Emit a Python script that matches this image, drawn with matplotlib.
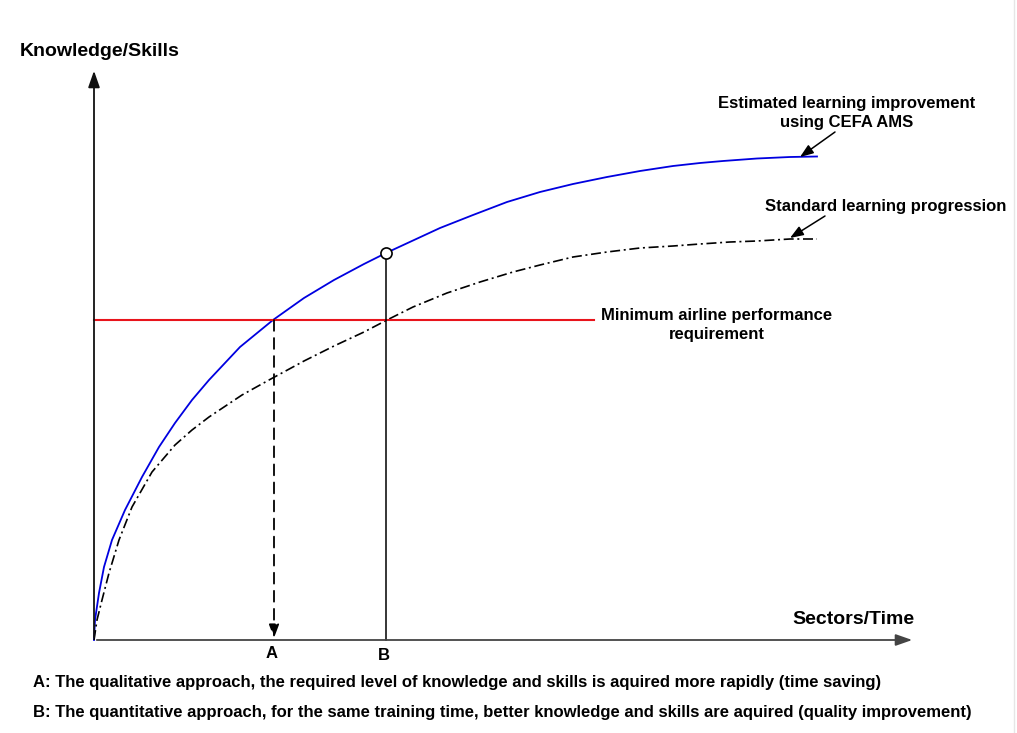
import matplotlib.pyplot as plt
import numpy as np

plt.rcParams['font.family'] = ['Liberation Sans', 'DejaVu Sans']

# curves (time units, knowledge units)
ams_t = [0, 1, 5, 10, 18, 31, 48, 65, 81, 98, 115, 146, 179, 210, 240, 270, 292,
         346, 379, 413, 446, 479, 513, 546, 579, 606, 629, 663, 696, 723]
ams_k = [0, 20, 47, 73, 100, 130, 163, 193, 217, 240, 260, 293, 320, 342, 360, 376, 387,
         412, 425, 438, 448, 456, 463, 469, 474, 477, 479, 481.5, 483, 483.5]

std_t = [0, 3, 8, 15, 25, 38, 58, 81, 98, 115, 148, 175, 210, 240, 270, 293,
         319, 353, 386, 419, 446, 479, 513, 546, 579, 606, 636, 663, 696, 723]
std_k = [0, 20, 40, 67, 100, 133, 168, 195, 210, 223, 245, 260, 279, 294, 308, 320,
         333, 347, 358, 368, 375, 383, 388, 392, 394, 396, 398, 399, 401, 401]

min_level = 320
min_span = [0, 500]
point_a = 180
point_b = 292
b_level = 387

fig = plt.figure(figsize=(10.17, 7.33), dpi=100)
ax = fig.add_axes([0, 0, 1, 1])
ax.set_xlim(-94, 923)
ax.set_ylim(-93, 640)
ax.axis('off')

# axes with arrows
ax.annotate('', xy=(0, 572), xytext=(0, 0),
            arrowprops=dict(arrowstyle='-|>,head_length=1.0,head_width=0.35', color='#111111', lw=1.3))
ax.annotate('', xy=(821, 0), xytext=(0, 0),
            arrowprops=dict(arrowstyle='-|>,head_length=1.0,head_width=0.35', color='#444444', lw=1.3))
ax.text(6, 588, 'Knowledge/Skills', fontsize=14, fontweight='bold', ha='center', va='center')
ax.text(759, 20, 'Sectors/Time', fontsize=14, fontweight='bold', ha='center', va='center')

# curves
ax.plot(ams_t, ams_k, color='#0000e0', lw=1.3)
ax.plot(std_t, std_k, color='black', lw=1.2, dashes=(6, 2.2, 1.2, 2.2))
ax.plot(min_span, [min_level, min_level], color='#e8141c', lw=1.5)

# A and B guides
ax.annotate('', xy=(point_a, 2), xytext=(point_a, min_level),
            arrowprops=dict(arrowstyle='-|>,head_length=0.8,head_width=0.3', color='black',
                            lw=1.3, linestyle=(0, (6, 4)), shrinkA=0, shrinkB=0))
ax.plot([point_b, point_b], [0, b_level], color='black', lw=1.1)
ax.plot([point_b], [b_level], 'o', mfc='white', mec='black', ms=8, mew=1.2)
ax.text(point_a - 2, -14, 'A', fontsize=12, fontweight='bold', ha='center', va='center')
ax.text(point_b - 2, -16, 'B', fontsize=12, fontweight='bold', ha='center', va='center')

# labels
ax.text(623, 315, 'Minimum airline performance\nrequirement', fontsize=12, fontweight='bold',
        ha='center', va='center', linespacing=1.35)
ax.text(753, 527, 'Estimated learning improvement\nusing CEFA AMS', fontsize=12, fontweight='bold',
        ha='center', va='center', linespacing=1.35)
ax.text(792, 433, 'Standard learning progression', fontsize=12, fontweight='bold',
        ha='center', va='center')
arrow_style = dict(arrowstyle='-|>,head_length=0.8,head_width=0.3', color='black',
                   lw=1.1, shrinkA=0, shrinkB=0)
ax.annotate('', xy=(706, 483), xytext=(741, 508), arrowprops=arrow_style)
ax.annotate('', xy=(696, 402), xytext=(731, 424), arrowprops=arrow_style)

notes = ['A: The qualitative approach, the required level of knowledge and skills is aquired more rapidly (time saving)',
         'B: The quantitative approach, for the same training time, better knowledge and skills are aquired (quality improvement)']
ax.text(-61, -43, notes[0], fontsize=12, fontweight='bold', ha='left', va='center')
ax.text(-61, -73, notes[1], fontsize=12, fontweight='bold', ha='left', va='center')

ax.axvline(920, color='#e6e6e6', lw=1)

fig.savefig('out.png', dpi=100)
